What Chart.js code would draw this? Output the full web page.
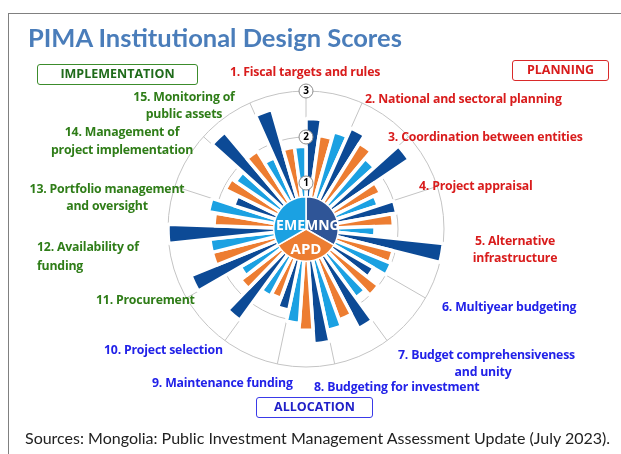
<!DOCTYPE html>
<html lang="en">
<head>
  <meta charset="UTF-8">
  <title>PIMA Institutional Design Scores</title>
  <style>
    body {
      margin: 0;
      width: 621px;
      height: 454px;
      overflow: hidden;
      background: #fff;
      font-family: Lato, "Open Sans", sans-serif;
      position: relative;
    }
    .frame {
      position: absolute;
      left: 8px; top: 13px;
      width: 700px; height: 500px;
      border: 1px solid #808080;
    }
    #polarChart { position: absolute; left: 0; top: 0; }
    #hubChart { position: absolute; left: 256px; top: 179px; }
    .title {
      position: absolute; left: 28px; top: 22px;
      font-size: 25.5px; font-weight: bold; color: #4a7dba;
      white-space: nowrap;
    }
    .box {
      position: absolute;
      font-family: "Open Sans", sans-serif;
      font-size: 12.5px; font-weight: bold;
      text-align: center; line-height: 18px;
      border-radius: 3px; box-sizing: border-box;
    }
    .lbl {
      position: absolute;
      font-family: "Open Sans", sans-serif;
      font-size: 12.3px; font-weight: bold;
      line-height: 17px; white-space: pre;
      letter-spacing: -0.2px;
    }
    .planning { color: #d91c1c; }
    .allocation { color: #2222e8; }
    .implementation { color: #2f7d18; }
    .source {
      position: absolute; left: 25px; top: 428px;
      font-size: 16px; color: #222; white-space: nowrap;
    }
  </style>
</head>
<body>
  <div class="frame"></div>
  <canvas id="polarChart" width="621" height="454"></canvas>
  <canvas id="hubChart" width="100" height="100"></canvas>

  <div class="title">PIMA Institutional Design Scores</div>
  <div class="box implementation" style="left:37px; top:64px; width:161px; height:21px; border:1.5px solid #3c8c2c; color:#1f6b1a;">IMPLEMENTATION</div>
  <div class="box planning" style="left:512px; top:60px; width:97px; height:21px; border:1.5px solid #d92a2a;">PLANNING</div>
  <div class="box allocation" style="left:256px; top:397px; width:117px; height:21px; border:1.5px solid #3a3ae8; color:#2020c8;">ALLOCATION</div>
  <div id="labels"></div>
  <div class="source">Sources: Mongolia: Public Investment Management Assessment Update (July 2023).</div>

  <script src="https://cdn.jsdelivr.net/npm/chart.js@4.4.0/dist/chart.umd.min.js"></script>
  <script>
    // Les 15 institutions PIMA
    const categories = [
      "1. Fiscal targets and rules",
      "2. National and sectoral planning",
      "3. Coordination between entities",
      "4. Project appraisal",
      "5. Alternative\ninfrastructure",
      "6. Multiyear budgeting",
      "7. Budget comprehensiveness\nand unity",
      "8. Budgeting for investment",
      "9. Maintenance funding",
      "10. Project selection",
      "11. Procurement",
      "12. Availability of\nfunding",
      "13. Portfolio management\nand oversight",
      "14. Management of\nproject implementation",
      "15. Monitoring of\npublic assets"
    ];
    const pillars = ["planning", "planning", "planning", "planning", "planning",
      "allocation", "allocation", "allocation", "allocation", "allocation",
      "implementation", "implementation", "implementation", "implementation", "implementation"];

    // Scores
    const groups = ["MNG", "APD", "EME"];
    const mngScores = [2.4, 2.4, 2.7, 2.0, 3.0, 1.7, 2.45, 2.5, 1.8, 2.45, 2.7, 3.0, 1.65, 2.75, 2.7];
    const apdScores = [2.05, 2.2, 1.8, 1.9, 1.95, 2.0, 2.1, 2.2, 1.6, 1.8, 2.1, 2.0, 1.95, 2.0, 1.8];
    const emeScores = [2.2, 2.0, 1.65, 1.5, 2.0, 1.85, 2.25, 2.05, 1.65, 1.65, 2.1, 2.15, 1.85, 1.7, 1.8];
    const tickValues = [1, 2, 3];

    const barColors = ["#0c4a96", "#ed7d31", "#1ba1e2"];
    const hubColors = ["#2f5597", "#ed7d31", "#1ba1e2"];

    // 3 barres par institution, dans l'ordre MNG, APD, EME
    const barLabels = [];
    const barValues = [];
    categories.forEach((c, i) => {
      [mngScores, apdScores, emeScores].forEach((s, g) => {
        barLabels.push(c.replace("\n", " ") + " - " + groups[g]);
        barValues.push(s[i]);
      });
    });

    // Pastilles 1, 2, 3 sur l'axe vertical
    const tickBadges = {
      id: "tickBadges",
      afterDraw(chart) {
        const r = chart.scales.r;
        const ctx = chart.ctx;
        ctx.save();
        tickValues.forEach(v => {
          const y = r.yCenter - r.getDistanceFromCenterForValue(v);
          ctx.beginPath();
          ctx.arc(r.xCenter, y, 7, 0, Math.PI * 2);
          ctx.fillStyle = "#fff";
          ctx.fill();
          ctx.strokeStyle = "#8c8c8c";
          ctx.lineWidth = 1;
          ctx.stroke();
          ctx.fillStyle = "#000";
          ctx.font = "bold 10px 'Open Sans'";
          ctx.textAlign = "center";
          ctx.textBaseline = "middle";
          ctx.fillText(String(v), r.xCenter, y + 0.5);
        });
        ctx.restore();
      }
    };

    new Chart(document.getElementById("polarChart"), {
      type: "polarArea",
      data: {
        labels: barLabels,
        datasets: [{
          data: barValues,
          backgroundColor: barValues.map((_, i) => barColors[i % 3]),
          borderColor: "#fff",
          borderWidth: 3.5
        }]
      },
      options: {
        responsive: false,
        animation: false,
        layout: { padding: { left: 168, right: 177, top: 91, bottom: 87 } },
        scales: {
          r: {
            min: 0,
            max: 3,
            ticks: { display: false, stepSize: 1 },
            grid: { color: "#c4c4c4", lineWidth: 1 },
            angleLines: {
              display: true,
              color: "#c4c4c4",
              lineWidth: ctx => (ctx.index % 3 === 0 ? 1 : 0)
            },
            pointLabels: { display: false }
          }
        },
        plugins: { legend: { display: false } }
      },
      plugins: [tickBadges]
    });

    // Etiquettes du moyeu central
    const hubLabels = {
      id: "hubLabels",
      afterDraw(chart) {
        const arc = chart.getDatasetMeta(0).data[0];
        const ctx = chart.ctx;
        const names = chart.data.labels;
        ctx.save();
        ctx.fillStyle = "#fff";
        ctx.font = "bold 14px 'Open Sans'";
        ctx.textBaseline = "middle";
        ctx.textAlign = "left";
        ctx.fillText(names[0], arc.x - 1, arc.y - 3);
        ctx.textAlign = "right";
        ctx.fillText(names[2], arc.x - 1, arc.y - 3);
        ctx.textAlign = "center";
        ctx.font = "bold 15px 'Open Sans'";
        ctx.fillText(names[1], arc.x, arc.y + 21);
        ctx.restore();
      }
    };

    new Chart(document.getElementById("hubChart"), {
      type: "pie",
      data: {
        labels: groups,
        datasets: [{
          data: [1, 1, 1],
          backgroundColor: hubColors,
          borderColor: "#fff",
          borderWidth: 1.5
        }]
      },
      options: {
        responsive: false,
        animation: false,
        layout: { padding: 17 },
        plugins: { legend: { display: false }, tooltip: { enabled: false } }
      },
      plugins: [hubLabels]
    });

    // Libellés des institutions autour du graphique
    const labelSpots = [
      { left: 230, top: 63 },
      { left: 365, top: 90 },
      { left: 388, top: 128 },
      { left: 419, top: 177 },
      { left: 460, top: 232, width: 110, align: "center" },
      { left: 442, top: 298 },
      { left: 398, top: 346, width: 170, align: "center" },
      { left: 314, top: 378 },
      { left: 152, top: 374 },
      { left: 104, top: 341 },
      { left: 96, top: 291 },
      { left: 37, top: 237, lh: 19 },
      { left: 27, top: 180, width: 160, align: "center" },
      { left: 42, top: 123, width: 160, align: "center", lh: 18 },
      { left: 114, top: 88, width: 140, align: "center" }
    ];
    const labelsDiv = document.getElementById("labels");
    categories.forEach((c, i) => {
      const spot = labelSpots[i];
      const el = document.createElement("div");
      el.className = "lbl " + pillars[i];
      el.textContent = c;
      el.style.left = spot.left + "px";
      el.style.top = spot.top + "px";
      if (spot.width) el.style.width = spot.width + "px";
      if (spot.align) el.style.textAlign = spot.align;
      if (spot.lh) el.style.lineHeight = spot.lh + "px";
      labelsDiv.appendChild(el);
    });
  </script>
</body>
</html>
